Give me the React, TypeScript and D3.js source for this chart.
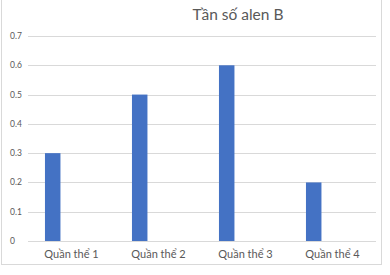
import React from "react";
import * as d3 from "d3";

const categories = ["Quần thể 1", "Quần thể 2", "Quần thể 3", "Quần thể 4"];
const values = [0.3, 0.5, 0.6, 0.2];
const yTicks = [0, 0.1, 0.2, 0.3, 0.4, 0.5, 0.6, 0.7];
const title = "Tần số alen B";

export default function App() {
  const W = 390, H = 275;
  const left = 28, right = 376, top = 36, bottom = 241;
  const x = d3.scaleBand<string>().domain(categories).range([left, right]);
  const y = d3.scaleLinear().domain([0, 0.7]).range([bottom, top]);
  const bw = x.bandwidth();
  const font = "Lato, 'Open Sans', sans-serif";
  return (
    <svg width={W} height={H} style={{ position: "absolute", left: 0, top: 0, background: "#fff" }}>
      <rect x={1.5} y={-2} width={380} height={266.5} fill="none" stroke="#d9d9d9" strokeWidth={1} />
      <text x={238} y={20} textAnchor="middle" fontFamily={font} fontSize={15.5} fill="#595959">{title}</text>
      {yTicks.map((t) => (
        <g key={t}>
          <line x1={left} x2={right} y1={Math.round(y(t)) + 0.5} y2={Math.round(y(t)) + 0.5} stroke="#d9d9d9" strokeWidth={1} />
          <text x={10} y={y(t) + 3} textAnchor="start" fontFamily={font} fontSize={8.5} fill="#595959">{t === 0 ? "0" : d3.format(".1f")(t)}</text>
        </g>
      ))}
      {categories.map((c, i) => (
        <rect key={c} x={(x(c) as number) + bw * 0.195} y={y(values[i])} width={bw * 0.178} height={y(0) - y(values[i])} fill="#4472C4" />
      ))}
      {categories.map((c) => (
        <text key={c} x={(x(c) as number) + bw / 2} y={258} textAnchor="middle" fontFamily={font} fontSize={11} fill="#595959">{c}</text>
      ))}
    </svg>
  );
}
